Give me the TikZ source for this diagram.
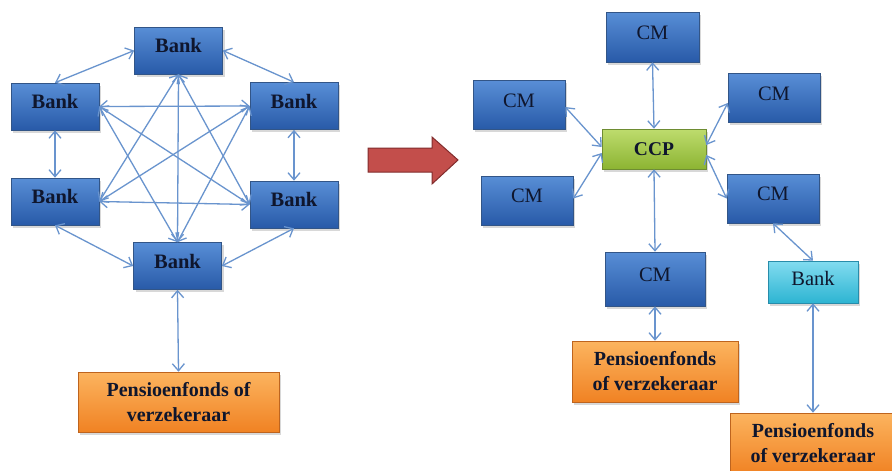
\documentclass[tikz,border=0pt]{standalone}
\usepackage{fontspec}
\setmainfont{Liberation Serif}
\usetikzlibrary{arrows.meta,shadows}
\definecolor{bluetop}{RGB}{88,142,214}
\definecolor{bluebot}{RGB}{40,90,168}
\definecolor{blueedge}{RGB}{50,85,135}
\definecolor{txtcol}{RGB}{15,22,45}
\definecolor{greentop}{RGB}{190,220,110}
\definecolor{greenbot}{RGB}{140,180,50}
\definecolor{greenedge}{RGB}{110,140,50}
\definecolor{cyantop}{RGB}{130,220,240}
\definecolor{cyanbot}{RGB}{45,180,210}
\definecolor{cyanedge}{RGB}{40,140,170}
\definecolor{orgtop}{RGB}{252,180,95}
\definecolor{orgbot}{RGB}{240,130,35}
\definecolor{orgedge}{RGB}{190,100,30}
\definecolor{linkcol}{RGB}{105,148,206}
\definecolor{redfill}{RGB}{195,78,75}
\definecolor{rededge}{RGB}{130,45,45}
\begin{document}
\begin{tikzpicture}[x=1pt,y=-1pt,
 box/.style={rectangle, inner sep=0pt, line width=0.6pt, text=txtcol,
   font=\fontsize{20.5}{24}\selectfont,
   drop shadow={shadow xshift=2pt, shadow yshift=-2.5pt, opacity=0.3}},
 bluebox/.style={box, draw=blueedge, top color=bluetop, bottom color=bluebot, text height=13pt, text depth=9pt},
 bankbox/.style={bluebox, font=\fontsize{20.5}{24}\selectfont\bfseries, minimum width=88pt, minimum height=47pt},
 cmbox/.style={bluebox, minimum width=92pt, minimum height=49pt},
 ccpbox/.style={box, draw=greenedge, top color=greentop, bottom color=greenbot,
   font=\fontsize{19.5}{23}\selectfont\bfseries, minimum width=104pt, minimum height=40pt},
 cyanbox/.style={box, draw=cyanedge, top color=cyantop, bottom color=cyanbot,
   minimum width=90pt, minimum height=42pt, text height=13pt, text depth=7pt},
 penbox/.style={box, draw=orgedge, top color=orgtop, bottom color=orgbot,
   font=\fontsize{20}{25}\selectfont\bfseries, align=center},
 linkline/.style={draw=linkcol, line width=1.3pt,
   {Straight Barb[length=7pt,width=12pt]}-{Straight Barb[length=7pt,width=12pt]}}
]
\useasboundingbox (0,0) rectangle (892,471);
\fill[white] (0,0) rectangle (892,471);

% ---------- left network ----------
\node[bankbox] (bT)  at (178.5,50.5) {Bank};
\node[bankbox] (bTL) at (55,106.5) {Bank};
\node[bankbox] (bTR) at (294,106) {Bank};
\node[bankbox] (bBL) at (55,201.5) {Bank};
\node[bankbox] (bBR) at (294,204.5) {Bank};
\node[bankbox] (bB)  at (177.5,266) {Bank};
\node[penbox, minimum width=201pt, minimum height=60pt] (pL) at (178.5,402) {Pensioenfonds of\\verzekeraar};

\draw[linkline] (bTL.north) -- (bT.west);
\draw[linkline] (bT.east) -- (bTR.north);
\draw[linkline] (bTL.south) -- (bBL.north);
\draw[linkline] (bTR.south) -- (bBR.north);
\draw[linkline] (bBL.south) -- (bB.west);
\draw[linkline] (bBR.south) -- (bB.east);
\draw[linkline] (bB.south) -- (pL.north);
\draw[linkline] (bTL.east) -- (bTR.west);
\draw[linkline] (bBL.east) -- (bBR.west);
\draw[linkline] (bT.south) -- (bB.north);
\draw[linkline] (bT.south) -- (bBL.east);
\draw[linkline] (bT.south) -- (bBR.west);
\draw[linkline] (bTL.east) -- (bBR.west);
\draw[linkline] (bTL.east) -- (bB.north);
\draw[linkline] (bTR.west) -- (bBL.east);
\draw[linkline] (bTR.west) -- (bB.north);

% ---------- big red arrow ----------
\draw[fill=redfill, draw=rededge, line width=1pt, line join=miter]
  (368,148) -- (432,148) -- (432,137) -- (458,160) -- (432,184) -- (432,172) -- (368,172) -- cycle;

% ---------- right network ----------
\node[cmbox, minimum width=93pt, minimum height=50pt] (cT) at (652.5,37) {CM};
\node[cmbox] (cUL) at (519,105) {CM};
\node[cmbox] (cUR) at (774,98) {CM};
\node[ccpbox] (ccp) at (654,149) {CCP};
\node[cmbox] (cLL) at (527,200.5) {CM};
\node[cmbox] (cLR) at (773,198.5) {CM};
\node[cmbox, minimum width=100pt, minimum height=54pt] (cB) at (655,279) {CM};
\node[cyanbox] (bankR) at (813,282) {Bank};
\node[penbox, minimum width=166pt, minimum height=61pt] (pM) at (655,371.5) {Pensioenfonds\\of verzekeraar};
\node[penbox, minimum width=166pt, minimum height=61pt] (pR) at (813,443.5) {Pensioenfonds\\of verzekeraar};

\draw[linkline] (cT.south) -- (ccp.north);
\draw[linkline] ([yshift=-2pt]cUL.east) -- ([yshift=2pt]ccp.west);
\draw[linkline] ([yshift=2pt]cLL.east) -- ([yshift=-4pt]ccp.west);
\draw[linkline] ([yshift=4pt]ccp.east) -- ([yshift=-5pt]cUR.west);
\draw[linkline] ([yshift=-6pt]ccp.east) -- (cLR.west);
\draw[linkline] (ccp.south) -- (cB.north);
\draw[linkline] (cLR.south) -- (bankR.north);
\draw[linkline] (cB.south) -- (pM.north);
\draw[linkline] (bankR.south) -- (pR.north);
\end{tikzpicture}
\end{document}
